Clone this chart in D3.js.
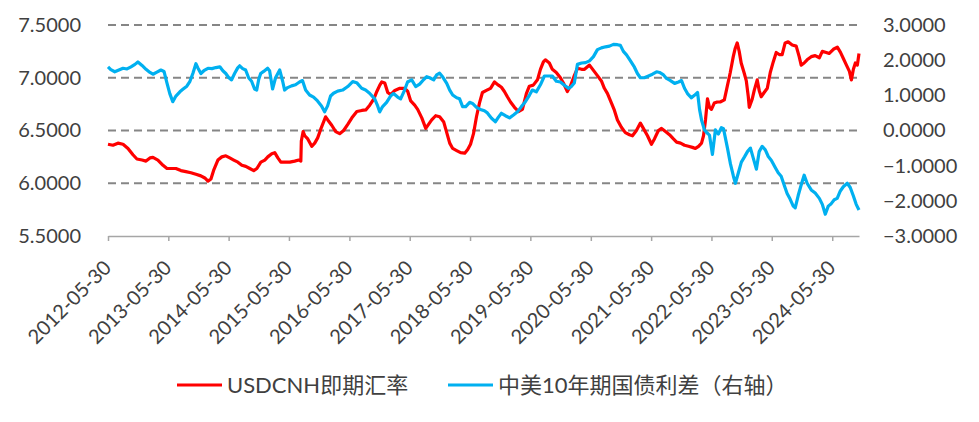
<!DOCTYPE html>
<html>
<head>
<meta charset="utf-8">
<script src="https://cdn.jsdelivr.net/npm/d3@7"></script>
<style>
  body { margin: 0; background: #fff; }
  svg text { font-family: Lato, "Noto Sans CJK SC", sans-serif; fill: #404040; }
</style>
</head>
<body>
<div id="chart"></div>
<script>
// USDCNH spot (left axis)
var usdcnhDates = [
  "2012-05-30","2012-06-29","2012-07-29","2012-08-29","2012-09-28","2012-10-28","2012-11-21","2012-12-22",
  "2013-01-15","2013-02-08","2013-02-26","2013-03-28","2013-04-28","2013-05-22","2013-06-21","2013-07-15",
  "2013-08-14","2013-09-13","2013-10-14","2013-11-13","2013-12-13","2014-01-06","2014-01-25","2014-02-12",
  "2014-03-02","2014-03-26","2014-04-19","2014-05-13","2014-06-06","2014-06-30","2014-07-25","2014-08-18",
  "2014-09-11","2014-10-05","2014-10-29","2014-11-17","2014-12-11","2015-01-04","2015-01-22","2015-02-15",
  "2015-03-05","2015-03-24","2015-04-11","2015-05-05","2015-06-04","2015-07-04","2015-07-28","2015-08-10",
  "2015-08-13","2015-08-24","2015-09-03","2015-09-21","2015-10-15","2015-11-02","2015-11-20","2015-12-08",
  "2016-01-07","2016-01-20","2016-02-13","2016-03-08","2016-04-01","2016-04-25","2016-05-21","2016-06-14",
  "2016-07-14","2016-08-13","2016-09-06","2016-09-30","2016-10-25","2016-11-12","2016-11-30","2016-12-12",
  "2016-12-30","2017-01-17","2017-02-04","2017-03-01","2017-03-31","2017-04-30","2017-05-18","2017-06-05",
  "2017-06-29","2017-07-17","2017-08-11","2017-09-04","2017-09-22","2017-10-10","2017-11-03","2017-11-27",
  "2017-12-22","2018-01-09","2018-01-27","2018-02-14","2018-03-10","2018-04-03","2018-04-28","2018-05-16",
  "2018-06-02","2018-06-20","2018-07-08","2018-07-26","2018-08-13","2018-09-06","2018-10-01","2018-10-25",
  "2018-11-18","2018-12-06","2018-12-24","2019-01-11","2019-01-30","2019-02-23","2019-03-19","2019-04-12",
  "2019-05-06","2019-05-24","2019-06-17","2019-07-12","2019-07-30","2019-08-17","2019-08-29","2019-09-22",
  "2019-10-10","2019-11-03","2019-11-28","2019-12-16","2020-01-09","2020-01-27","2020-02-20","2020-03-10",
  "2020-04-04","2020-04-22","2020-05-22","2020-06-15","2020-07-09","2020-08-02","2020-08-20","2020-09-08",
  "2020-10-02","2020-10-20","2020-11-07","2020-12-01","2020-12-25","2021-01-19","2021-02-06","2021-03-02",
  "2021-03-26","2021-04-13","2021-05-08","2021-06-01","2021-06-19","2021-07-13","2021-08-01","2021-08-25",
  "2021-09-18","2021-10-12","2021-10-31","2021-11-24","2021-12-18","2022-01-11","2022-02-04","2022-02-22",
  "2022-03-13","2022-03-31","2022-04-12","2022-04-24","2022-05-06","2022-05-18","2022-05-30","2022-06-16",
  "2022-07-04","2022-07-22","2022-08-16","2022-09-03","2022-09-21","2022-10-09","2022-10-21","2022-11-02",
  "2022-11-14","2022-11-26","2022-12-15","2022-12-27","2023-01-08","2023-01-14","2023-02-01","2023-02-13",
  "2023-03-03","2023-03-15","2023-03-27","2023-04-14","2023-05-03","2023-05-21","2023-06-08","2023-06-26",
  "2023-07-14","2023-08-01","2023-08-19","2023-09-06","2023-10-01","2023-10-25","2023-11-12","2023-11-24",
  "2023-12-12","2023-12-30","2024-01-24","2024-02-17","2024-03-13","2024-03-31","2024-04-24","2024-05-12",
  "2024-06-06","2024-06-30","2024-07-19","2024-08-06","2024-08-24","2024-09-11","2024-09-23","2024-10-05",
  "2024-10-17","2024-10-29","2024-11-08"
];
var usdcnhValues = [
  6.37,6.36,6.38,6.37,6.33,6.27,6.23,6.22,
  6.21,6.24,6.245,6.22,6.17,6.14,6.14,6.14,
  6.12,6.11,6.10,6.085,6.07,6.05,6.02,6.04,
  6.13,6.22,6.25,6.26,6.24,6.22,6.20,6.17,
  6.16,6.14,6.12,6.14,6.20,6.22,6.25,6.28,
  6.29,6.24,6.20,6.20,6.20,6.21,6.22,6.21,
  6.40,6.49,6.45,6.42,6.35,6.38,6.43,6.51,
  6.63,6.60,6.55,6.49,6.47,6.50,6.56,6.62,
  6.68,6.69,6.695,6.74,6.80,6.87,6.93,6.96,
  6.95,6.86,6.84,6.88,6.90,6.90,6.87,6.78,
  6.74,6.70,6.62,6.52,6.56,6.60,6.64,6.63,
  6.58,6.48,6.38,6.33,6.31,6.29,6.285,6.32,
  6.37,6.47,6.63,6.76,6.86,6.88,6.90,6.96,
  6.93,6.91,6.87,6.82,6.77,6.72,6.68,6.70,
  6.85,6.92,6.93,6.98,7.08,7.15,7.17,7.14,
  7.08,7.05,7.00,6.95,6.87,6.92,7.02,7.09,
  7.08,7.08,7.12,7.07,7.02,6.97,6.90,6.85,
  6.76,6.69,6.60,6.53,6.48,6.46,6.45,6.50,
  6.57,6.52,6.45,6.37,6.42,6.50,6.52,6.49,
  6.46,6.42,6.39,6.38,6.36,6.35,6.34,6.33,
  6.35,6.38,6.45,6.60,6.80,6.72,6.70,6.76,
  6.77,6.77,6.79,6.92,7.05,7.20,7.28,7.33,
  7.25,7.14,7.04,6.97,6.82,6.72,6.80,6.88,
  6.98,6.88,6.82,6.86,6.90,7.05,7.15,7.24,
  7.22,7.22,7.33,7.34,7.31,7.30,7.20,7.12,
  7.14,7.17,7.20,7.21,7.19,7.25,7.24,7.23,
  7.27,7.29,7.24,7.18,7.12,7.06,6.98,7.08,
  7.14,7.12,7.23
];

// China-US 10Y yield spread (right axis)
var spreadDates = [
  "2012-05-30","2012-06-16","2012-07-10","2012-08-04","2012-08-29","2012-09-22","2012-10-16","2012-11-09",
  "2012-11-27","2012-12-22","2013-01-15","2013-02-08","2013-02-26","2013-03-22","2013-04-15","2013-05-04",
  "2013-05-22","2013-06-08","2013-06-26","2013-07-15","2013-08-08","2013-08-26","2013-09-19","2013-10-08",
  "2013-10-26","2013-11-13","2013-11-25","2013-12-13","2013-12-31","2014-01-25","2014-02-18","2014-03-14",
  "2014-04-07","2014-04-25","2014-05-13","2014-05-31","2014-06-17","2014-07-05","2014-07-24","2014-08-05",
  "2014-08-23","2014-09-10","2014-09-28","2014-10-16","2014-11-03","2014-11-16","2014-11-28","2014-12-10",
  "2014-12-28","2015-01-21","2015-02-02","2015-02-20","2015-03-10","2015-04-04","2015-04-22","2015-05-04",
  "2015-05-22","2015-06-15","2015-07-09","2015-08-02","2015-08-20","2015-09-08","2015-10-02","2015-10-26",
  "2015-11-19","2015-12-13","2016-01-01","2016-01-19","2016-02-06","2016-02-24","2016-03-20","2016-04-19",
  "2016-05-20","2016-06-19","2016-07-13","2016-08-12","2016-09-05","2016-09-29","2016-10-30","2016-11-17",
  "2016-11-29","2016-12-17","2017-01-10","2017-02-03","2017-02-21","2017-03-18","2017-04-05","2017-04-29",
  "2017-05-17","2017-06-11","2017-07-05","2017-07-29","2017-08-23","2017-09-10","2017-09-28","2017-10-22",
  "2017-11-09","2017-11-27","2017-12-16","2018-01-09","2018-01-27","2018-02-14","2018-03-10","2018-03-28",
  "2018-04-15","2018-05-04","2018-05-28","2018-06-14","2018-07-08","2018-08-01","2018-08-25","2018-09-12",
  "2018-10-07","2018-10-31","2018-11-18","2018-12-06","2018-12-30","2019-01-24","2019-02-17","2019-03-13",
  "2019-04-06","2019-04-30","2019-05-24","2019-06-11","2019-07-05","2019-07-30","2019-08-23","2019-09-16",
  "2019-10-10","2019-11-03","2019-11-28","2019-12-22","2020-01-15","2020-02-02","2020-02-20","2020-03-10",
  "2020-04-04","2020-04-28","2020-05-22","2020-06-15","2020-07-09","2020-08-02","2020-08-27","2020-09-20",
  "2020-10-14","2020-11-07","2020-11-25","2020-12-13","2021-01-01","2021-01-25","2021-02-18","2021-03-08",
  "2021-03-26","2021-04-19","2021-05-14","2021-06-07","2021-07-02","2021-07-20","2021-08-13","2021-08-31",
  "2021-09-24","2021-10-19","2021-11-12","2021-11-30","2021-12-18","2022-01-05","2022-01-29","2022-02-16",
  "2022-03-07","2022-03-19","2022-03-31","2022-04-18","2022-05-06","2022-05-18","2022-06-05","2022-06-23",
  "2022-07-11","2022-07-29","2022-08-11","2022-09-04","2022-09-22","2022-10-10","2022-10-22","2022-11-09",
  "2022-11-27","2022-12-16","2023-01-03","2023-01-21","2023-02-08","2023-02-26","2023-03-15","2023-04-02",
  "2023-04-21","2023-05-09","2023-05-28","2023-06-20","2023-07-08","2023-07-26","2023-08-13","2023-08-31",
  "2023-09-18","2023-10-07","2023-10-19","2023-11-06","2023-11-24","2023-12-12","2023-12-30","2024-01-24",
  "2024-02-17","2024-03-13","2024-03-31","2024-04-18","2024-05-06","2024-05-24","2024-06-11","2024-06-29",
  "2024-07-18","2024-08-05","2024-08-29","2024-09-16","2024-10-04","2024-10-22","2024-11-08"
];
var spreadValues = [
  1.81,1.73,1.67,1.72,1.77,1.75,1.81,1.88,
  1.95,1.85,1.74,1.65,1.60,1.66,1.72,1.68,
  1.35,1.05,0.82,0.98,1.10,1.17,1.26,1.40,
  1.63,1.90,1.78,1.62,1.70,1.77,1.76,1.79,
  1.81,1.70,1.62,1.50,1.44,1.62,1.78,1.84,
  1.76,1.72,1.50,1.40,1.18,1.15,1.45,1.62,
  1.68,1.77,1.70,1.18,1.50,1.72,1.40,1.15,
  1.22,1.27,1.30,1.38,1.42,1.15,1.01,0.95,
  0.84,0.70,0.53,0.70,0.98,1.06,1.12,1.15,
  1.25,1.39,1.36,1.20,1.15,1.06,0.90,0.70,
  0.53,0.68,0.80,0.98,1.05,0.95,0.90,1.15,
  1.38,1.44,1.25,1.32,1.45,1.53,1.50,1.44,
  1.58,1.63,1.52,1.34,1.15,1.01,0.93,0.90,
  0.68,0.68,0.80,0.77,0.66,0.60,0.56,0.50,
  0.35,0.25,0.38,0.49,0.42,0.36,0.44,0.53,
  0.68,0.82,1.00,1.15,1.10,1.30,1.55,1.55,
  1.55,1.40,1.38,1.29,1.20,1.25,1.35,1.88,
  1.92,1.93,1.98,2.10,2.30,2.35,2.38,2.40,
  2.45,2.44,2.42,2.25,2.15,1.98,1.80,1.62,
  1.50,1.50,1.55,1.60,1.67,1.65,1.58,1.48,
  1.42,1.34,1.38,1.42,1.20,1.05,0.93,1.00,
  1.08,0.60,0.30,0.01,-0.08,-0.13,-0.68,0.02,
  -0.10,0.08,0.05,-0.50,-0.95,-1.30,-1.50,-1.20,
  -0.90,-0.75,-0.60,-0.50,-0.80,-1.10,-0.60,-0.45,
  -0.55,-0.74,-0.85,-1.05,-1.20,-1.30,-1.55,-1.79,
  -1.95,-2.15,-2.20,-1.85,-1.55,-1.27,-1.50,-1.69,
  -1.78,-1.93,-2.10,-2.38,-2.15,-2.08,-1.97,-1.93,
  -1.72,-1.60,-1.50,-1.62,-1.85,-2.10,-2.26
];

var xTickLabels = ["2012-05-30","2013-05-30","2014-05-30","2015-05-30","2016-05-30","2017-05-30","2018-05-30",
  "2019-05-30","2020-05-30","2021-05-30","2022-05-30","2023-05-30","2024-05-30"];
var leftTicks = [5.5, 6.0, 6.5, 7.0, 7.5];
var rightTicks = [-3, -2, -1, 0, 1, 2, 3];
var seriesNames = ["USDCNH即期汇率", "中美10年期国债利差（右轴）"];
var seriesColors = ["#ff0000", "#00b0f0"];

var cfg = {
  width: 979,
  height: 422,
  left: 108,
  right: 859,
  top: 25,
  bottom: 236
};

var parse = d3.timeParse("%Y-%m-%d");

var svg = d3.select("#chart")
  .append("svg")
  .attr("width", cfg.width)
  .attr("height", cfg.height);

var x = d3.scaleTime()
  .domain([parse(usdcnhDates[0]), parse(usdcnhDates[usdcnhDates.length - 1])])
  .range([cfg.left, cfg.right]);

var yLeft = d3.scaleLinear()
  .domain([5.5, 7.5])
  .range([cfg.bottom, cfg.top]);

var yRight = d3.scaleLinear()
  .domain([-3, 3])
  .range([cfg.bottom, cfg.top]);

// dashed gridlines (not on the base line)
svg.append("g")
  .selectAll("line")
  .data(leftTicks.filter(function(d) { return d > 5.5; }))
  .enter()
  .append("line")
    .attr("x1", cfg.left)
    .attr("x2", cfg.right)
    .attr("y1", function(d) { return yLeft(d); })
    .attr("y2", function(d) { return yLeft(d); })
    .style("stroke", "#868686")
    .style("stroke-width", 1.8)
    .style("stroke-dasharray", "8,5");

// X axis
var xAxis = svg.append("g")
  .attr("transform", "translate(0," + cfg.bottom + ")")
  .call(d3.axisBottom(x)
    .tickValues(xTickLabels.map(parse))
    .tickFormat(d3.timeFormat("%Y-%m-%d"))
    .tickSize(5)
    .tickSizeOuter(0));
xAxis.select(".domain").style("stroke", "#a6a6a6").style("stroke-width", 1.5);
xAxis.selectAll(".tick line").style("stroke", "#a6a6a6").style("stroke-width", 1.5);
xAxis.selectAll(".tick text")
  .attr("y", 0)
  .attr("dy", 0)
  .attr("transform", "translate(4,33) rotate(-45)")
  .style("text-anchor", "end")
  .style("font-size", "20px");

// left Y axis (labels only)
var leftAxis = svg.append("g")
  .attr("transform", "translate(" + cfg.left + ",0)")
  .call(d3.axisLeft(yLeft).tickValues(leftTicks).tickFormat(d3.format(".4f")).tickSize(0).tickPadding(27));
leftAxis.select(".domain").remove();
leftAxis.selectAll("text").style("font-size", "20px");

// right Y axis (labels only)
var rightAxis = svg.append("g")
  .attr("transform", "translate(" + cfg.right + ",0)")
  .call(d3.axisRight(yRight).tickValues(rightTicks).tickFormat(d3.format(".4f")).tickSize(0).tickPadding(24));
rightAxis.select(".domain").remove();
rightAxis.selectAll("text").style("font-size", "20px");

// lines - spread is on the secondary axis so it sits on top
var usdLine = d3.line()
  .x(function(d, i) { return x(parse(usdcnhDates[i])); })
  .y(function(d) { return yLeft(d); });

var spreadLine = d3.line()
  .x(function(d, i) { return x(parse(spreadDates[i])); })
  .y(function(d) { return yRight(d); });

svg.append("path")
  .datum(usdcnhValues)
  .attr("d", usdLine)
  .style("fill", "none")
  .style("stroke", seriesColors[0])
  .style("stroke-width", 3.2)
  .style("stroke-linejoin", "round");

svg.append("path")
  .datum(spreadValues)
  .attr("d", spreadLine)
  .style("fill", "none")
  .style("stroke", seriesColors[1])
  .style("stroke-width", 3.2)
  .style("stroke-linejoin", "round");

// legend
var legendPos = [177, 448];
var legend = svg.append("g")
  .selectAll("g")
  .data(seriesNames)
  .enter()
  .append("g")
  .attr("transform", function(d, i) { return "translate(" + legendPos[i] + ",385)"; });
legend.append("line")
  .attr("x1", 0)
  .attr("x2", 45)
  .style("stroke", function(d, i) { return seriesColors[i]; })
  .style("stroke-width", 3);
legend.append("text")
  .attr("x", 50)
  .attr("dy", "0.35em")
  .style("font-size", "22px")
  .text(function(d) { return d; });
</script>
</body>
</html>
